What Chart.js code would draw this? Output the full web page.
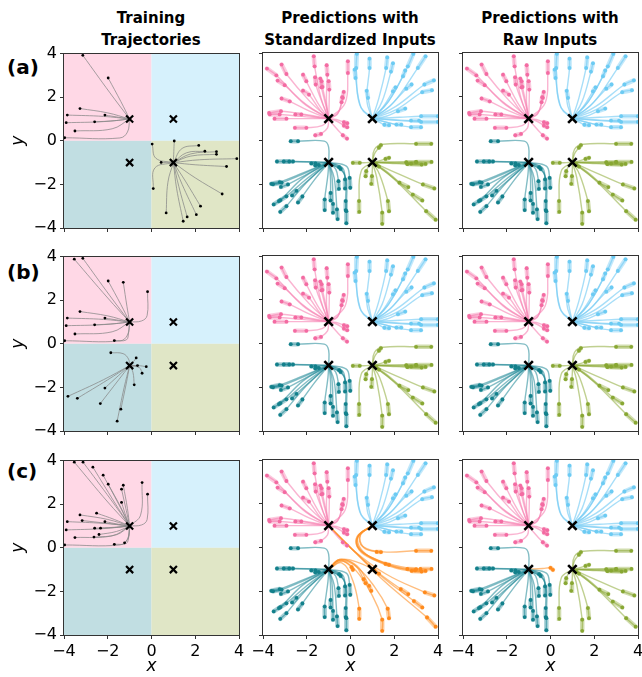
<!DOCTYPE html>
<html><head><meta charset="utf-8">
<script src="https://cdn.jsdelivr.net/npm/chart.js@4.4.1/dist/chart.umd.min.js"></script>
<style>
body{margin:0;background:#fff;}
#fig{position:relative;width:642px;height:677px;overflow:hidden;font-family:"DejaVu Sans",sans-serif;color:#000;}
canvas{position:absolute;}
.ttl{position:absolute;font-weight:bold;font-size:15px;line-height:22px;text-align:center;width:220px;}
.rl{position:absolute;font-weight:bold;font-size:20px;line-height:24px;}
</style></head>
<body><div id="fig">
<div class="ttl" style="left:41px;top:7px">Training<br>Trajectories</div>
<div class="ttl" style="left:240px;top:7px">Predictions with<br>Standardized Inputs</div>
<div class="ttl" style="left:440px;top:7px">Predictions with<br>Raw Inputs</div>
<div class="rl" style="left:7px;top:55px">(a)</div>
<div class="rl" style="left:7px;top:260px">(b)</div>
<div class="rl" style="left:7px;top:459px">(c)</div>
</div>
<script>
// ---------------- data ----------------
const tickValues = [-4, -2, 0, 2, 4];
const attractors = [[-1, 1], [1, 1], [-1, -1], [1, -1]]; // pink, blue, teal, olive
const quadrants = [[-4, 0, 0, 4], [0, 4, 0, 4], [-4, 0, -4, 0], [0, 4, -4, 0]];

// training trajectories: [start, bend...]
const trainA_pink = [
 [[-3.14,3.92],[-1.9,2.2]],
 [[-1.98,2.88],[-1.4,1.8]],
 [[-3.27,1.48],[-2.0,1.28]],
 [[-3.85,1.18],[-2.2,1.12]],
 [[-2.13,1.18],[-1.5,1.08]],
 [[-3.9,0.83],[-2.2,0.88]],
 [[-2.6,0.87],[-1.7,0.92]],
 [[-3.5,0.45],[-1.8,0.55]],
 [[-3.97,0.14],[-1.45,0.13],[-1.1,0.4]]
];
const trainA_olive = [
 [[1.04,-0.01],[1.02,-0.5]],
 [[0.03,-0.15],[0.2,-0.8]],
 [[2.16,-0.21],[1.4,-0.35]],
 [[2.44,-0.48],[1.6,-0.55]],
 [[2.97,-0.5],[1.8,-0.6]],
 [[2.97,-0.62],[1.8,-0.7]],
 [[3.9,-0.82],[2.2,-0.87]],
 [[0.44,-0.99],[0.7,-1.0]],
 [[3.43,-1.18],[2.0,-1.1]],
 [[0.08,-2.19],[0.15,-1.25]],
 [[3.23,-2.44],[2.0,-1.7]],
 [[0.67,-3.31],[0.75,-1.9]],
 [[2.24,-3.0],[1.55,-1.85]],
 [[2.05,-3.39],[1.4,-2.0]],
 [[1.63,-3.49],[1.25,-2.1]],
 [[1.45,-3.69],[1.15,-2.2]]
];
const trainB_pinkExtra = [
 [[-3.53,3.88],[-2.0,2.1]],
 [[-1.29,2.82],[-1.12,1.7]],
 [[-0.18,2.39],[-0.2,1.3],[-0.45,1.05]],
 [[-1.7,0.15],[-1.15,0.18],[-1.05,0.5]]
];
const trainB_teal = [
 [[-1.86,-0.41],[-1.3,-0.45],[-1.05,-0.7]],
 [[-0.7,-0.65],[-0.85,-0.85]],
 [[-0.64,-1.0],[-0.8,-1.0]],
 [[-0.24,-1.05],[-0.6,-1.0]],
 [[-0.43,-1.35],[-0.55,-1.1]],
 [[-0.79,-1.88],[-0.85,-1.3]],
 [[-2.13,-2.03],[-1.5,-1.45]],
 [[-3.82,-2.41],[-2.2,-1.65]],
 [[-3.39,-2.5],[-2.0,-1.65]],
 [[-2.34,-2.74],[-1.5,-1.65]],
 [[-1.4,-3.0],[-1.15,-1.8]],
 [[-1.57,-3.55],[-1.25,-2.0]]
];
const trainC_pink = [
 [[-3.53,3.93],[-2.0,2.1]],
 [[-3.13,3.93],[-1.85,2.2]],
 [[-2.68,3.7],[-1.7,2.1]],
 [[-2.21,3.33],[-1.5,2.0]],
 [[-1.98,2.92],[-1.4,1.85]],
 [[-1.29,2.87],[-1.1,1.8]],
 [[-1.37,2.69],[-1.15,1.7]],
 [[-0.43,2.99],[-0.5,1.5]],
 [[-0.18,2.46],[-0.2,1.3],[-0.45,1.05]],
 [[-1.37,2.08],[-1.15,1.4]],
 [[-3.27,1.51],[-2.0,1.3]],
 [[-2.51,1.59],[-1.7,1.3]],
 [[-3.85,1.2],[-2.2,1.12]],
 [[-3.17,1.25],[-2.0,1.12]],
 [[-2.13,1.2],[-1.5,1.08]],
 [[-3.9,0.82],[-2.2,0.88]],
 [[-2.6,0.9],[-1.7,0.93]],
 [[-2.33,0.9],[-1.6,0.95]],
 [[-2.4,0.61],[-1.6,0.75]],
 [[-3.5,0.47],[-1.8,0.55]],
 [[-2.63,0.49],[-1.6,0.6]],
 [[-3.97,0.13],[-1.45,0.13],[-1.1,0.4]],
 [[-1.7,0.16],[-1.15,0.2],[-1.05,0.5]],
 [[-1.23,0.23],[-1.05,0.45]]
];

// prediction trajectories: [start, end of input window, bend...]
const predPink = [
 [[-1.68,3.85],[-1.64,3.39],[-1.35,1.95]],
 [[-3.15,3.47],[-2.93,3.04],[-1.87,1.8]],
 [[-3.82,3.29],[-3.39,2.98],[-2.17,1.72]],
 [[-1.09,3.44],[-1.06,3.01],[-1.1,1.8]],
 [[-0.12,3.62],[-0.12,3.09],[-0.25,1.7]],
 [[-2.17,3.01],[-2.02,2.71],[-1.5,1.72]],
 [[-1.62,2.89],[-1.59,2.56],[-1.26,1.64]],
 [[-1.38,2.83],[-1.33,2.43],[-1.12,1.57]],
 [[-1.32,2.71],[-1.28,2.45],[-1.1,1.6]],
 [[-1.0,2.71],[-0.97,2.33],[-0.98,1.55]],
 [[-3.33,2.74],[-3.01,2.53],[-2.02,1.64]],
 [[-2.17,2.28],[-1.9,2.1],[-1.41,1.41]],
 [[-0.31,2.22],[-0.35,1.95],[-0.57,1.26]],
 [[-0.38,1.98],[-0.41,1.75],[-0.6,1.2]],
 [[-3.15,1.92],[-2.78,1.79],[-1.87,1.34]],
 [[-3.72,1.26],[-3.18,1.34],[-2.0,1.18]],
 [[-3.69,1.19],[-3.24,1.19],[-2.0,1.08]],
 [[-3.47,1.0],[-2.93,1.0],[-1.87,1.0]],
 [[-2.52,1.19],[-2.25,1.19],[-1.7,1.1]],
 [[-2.54,0.58],[-2.02,0.58],[-1.3,0.68]],
 [[-1.61,0.24],[-1.35,0.3],[-1.05,0.58]],
 [[-0.15,0.79],[-0.3,0.84],[-0.65,0.96]],
 [[-0.15,0.61],[-0.3,0.68],[-0.62,0.88]],
 [[-0.16,0.09],[-0.35,0.24],[-0.8,0.73]]
];
const predBlue = [
 [[0.29,3.96],[0.26,3.32],[0.42,1.64]],
 [[0.19,3.24],[0.23,2.86],[0.49,1.49]],
 [[0.87,3.74],[0.87,3.32],[0.75,1.8]],
 [[1.68,3.8],[1.63,3.32],[1.3,1.95]],
 [[1.94,3.53],[1.85,3.15],[1.45,1.8]],
 [[2.87,3.96],[2.62,3.39],[1.75,1.8]],
 [[3.43,3.85],[3.08,3.32],[1.95,1.72]],
 [[2.5,3.2],[2.4,2.94],[1.7,1.75]],
 [[2.79,2.56],[2.55,2.37],[1.79,1.57]],
 [[3.81,2.75],[3.38,2.56],[2.09,1.57]],
 [[3.72,2.3],[3.28,2.21],[2.09,1.41]],
 [[0.74,2.27],[0.8,1.95],[0.92,1.34]],
 [[2.06,2.43],[1.94,2.25],[1.5,1.55]],
 [[2.5,1.46],[2.17,1.34],[1.63,1.11]],
 [[3.99,1.11],[3.23,1.11],[2.24,1.06]],
 [[3.99,0.85],[3.23,0.85],[2.24,0.91]],
 [[3.22,0.61],[2.77,0.61],[1.94,0.76]],
 [[2.32,0.73],[2.1,0.73],[1.6,0.85]],
 [[1.76,0.7],[1.55,0.72],[1.3,0.85]],
 [[3.13,0.91],[2.77,0.91],[2.0,0.95]]
];
const predTeal = [
 [[-2.73,-0.03],[-2.4,-0.03],[-1.2,-0.03],[-1.0,-0.3]],
 [[-3.36,-0.96],[-2.63,-0.96],[-1.72,-0.98]],
 [[-3.05,-0.96],[-2.8,-0.96],[-1.8,-0.98]],
 [[-1.79,-1.05],[-1.6,-1.05],[-1.3,-1.02]],
 [[-1.61,-1.14],[-1.45,-1.12],[-1.25,-1.06]],
 [[-3.62,-1.98],[-3.24,-1.9],[-2.17,-1.48]],
 [[-3.54,-2.0],[-3.15,-1.93],[-2.1,-1.5]],
 [[-3.18,-2.12],[-2.86,-2.01],[-2.0,-1.55]],
 [[-3.51,-2.92],[-3.21,-2.73],[-2.17,-1.71]],
 [[-3.27,-2.77],[-2.93,-2.55],[-2.0,-1.75]],
 [[-2.67,-2.51],[-2.47,-2.3],[-1.8,-1.7]],
 [[-2.4,-2.83],[-2.2,-2.56],[-1.65,-1.8]],
 [[-3.21,-3.26],[-2.93,-3.0],[-2.02,-1.93]],
 [[-0.45,-1.3],[-0.52,-1.22],[-0.7,-1.1]],
 [[-0.53,-2.21],[-0.55,-1.86],[-0.68,-1.3]],
 [[-0.25,-2.19],[-0.25,-1.78],[-0.37,-1.25]],
 [[-0.01,-2.16],[-0.04,-1.71],[-0.19,-1.17]],
 [[-1.18,-3.18],[-1.18,-2.7],[-1.03,-1.55]],
 [[-0.91,-2.74],[-0.91,-2.4],[-0.92,-1.6]],
 [[-0.59,-3.59],[-0.62,-3.15],[-0.75,-1.7]],
 [[-0.19,-3.78],[-0.19,-3.23],[-0.27,-1.55]],
 [[-0.22,-3.18],[-0.22,-2.77],[-0.3,-1.5]],
 [[-0.8,-3.3],[-0.8,-2.9],[-0.85,-1.6]]
];
const predOlive = [
 [[3.69,-0.15],[3.0,-0.15],[1.5,-0.17],[1.1,-0.4]],
 [[1.39,-0.21],[1.3,-0.33],[1.1,-0.6]],
 [[0.11,-1.02],[0.42,-1.02],[0.72,-1.01]],
 [[1.76,-0.79],[1.6,-0.84],[1.3,-0.93]],
 [[3.0,-0.99],[2.55,-0.99],[1.79,-0.99]],
 [[3.7,-0.98],[3.0,-0.98],[2.0,-0.99]],
 [[3.43,-1.07],[2.77,-1.06],[1.9,-1.03]],
 [[3.25,-1.1],[2.6,-1.08],[1.8,-1.04]],
 [[1.3,-1.19],[1.2,-1.12]],
 [[0.69,-1.63],[0.72,-1.4],[0.85,-1.15]],
 [[0.95,-1.98],[0.98,-1.63],[1.0,-1.3]],
 [[2.64,-2.13],[2.24,-1.93],[1.48,-1.33]],
 [[3.83,-2.19],[3.31,-2.01],[1.8,-1.35]],
 [[3.28,-2.74],[2.85,-2.47],[1.7,-1.45]],
 [[0.4,-3.26],[0.39,-2.77],[0.49,-1.4]],
 [[1.76,-3.23],[1.71,-2.77],[1.33,-1.55]],
 [[1.45,-3.81],[1.45,-3.3],[1.2,-1.7]],
 [[3.89,-3.62],[3.46,-3.23],[1.94,-1.71]]
];
// (c) standardized: olive starts that go to the wrong attractor (orange)
const stdC_orangeToBlue = [
 [[3.69,-0.15],[3.0,-0.15],[1.5,-0.2],[0.55,0.05],[0.45,0.55]],
 [[3.7,-0.98],[3.2,-0.98],[2.3,-0.88],[1.2,-0.55],[0.45,-0.1],[0.35,0.5]],
 [[3.43,-1.07],[2.95,-1.05],[2.2,-0.92],[1.15,-0.55],[0.42,-0.1],[0.33,0.5]],
 [[3.25,-1.1],[2.8,-1.07],[2.1,-0.95],[1.1,-0.58],[0.4,-0.12],[0.32,0.48]],
 [[3.0,-0.99],[2.6,-0.98],[2.0,-0.88],[1.05,-0.5],[0.38,-0.05],[0.3,0.5]],
 [[1.76,-0.79],[1.6,-0.75],[0.9,-0.45],[0.4,0.05],[0.38,0.55]],
 [[1.39,-0.21],[1.2,-0.2],[0.6,0.0],[0.45,0.6]]
];
const stdC_orangeToTeal = [
 [[0.11,-1.02],[0.05,-0.9],[-0.4,-0.62]],
 [[0.69,-1.63],[0.6,-1.45],[0.2,-0.8],[-0.5,-0.55]],
 [[0.95,-1.98],[0.85,-1.75],[0.3,-0.85],[-0.5,-0.55]],
 [[1.3,-1.19],[1.1,-1.05],[0.4,-0.7],[-0.45,-0.55]],
 [[0.4,-3.26],[0.4,-2.8],[0.1,-1.5],[-0.4,-0.7]],
 [[1.45,-3.81],[1.45,-3.3],[1.0,-2.2],[0.2,-1.0],[-0.5,-0.6]],
 [[1.76,-3.23],[1.7,-2.8],[1.1,-1.8],[0.3,-0.9],[-0.5,-0.58]]
];
const stdC_orangeToPink = [
 [[3.89,-3.62],[3.5,-3.2],[1.5,-1.5],[0.1,-0.1]],
 [[3.28,-2.74],[2.9,-2.45],[1.4,-1.3],[0.1,-0.1]],
 [[3.83,-2.19],[3.4,-2.05],[1.6,-1.2],[0.1,-0.1]],
 [[2.64,-2.13],[2.3,-1.9],[1.2,-1.1],[0.1,-0.1]]
];
// (c) raw: one olive start goes to the teal attractor
const rawC_orangeToTeal = [
 [[0.11,-1.02],[0.0,-0.93],[-0.35,-0.96]]
];

// ---------------- styles ----------------
const quadColors = ['#ffd8e6', '#d6f1fc', '#c1dee2', '#e0e6c6'];
const COL = {
  pink:   {dot:'#f36ba2', line:'rgba(246,130,178,0.6)', thick:'rgba(246,130,178,0.42)'},
  blue:   {dot:'#6ccbf3', line:'rgba(120,205,245,0.65)', thick:'rgba(120,205,245,0.45)'},
  teal:   {dot:'#13808b', line:'rgba(30,135,150,0.55)', thick:'rgba(30,135,150,0.38)'},
  olive:  {dot:'#88a733', line:'rgba(140,170,55,0.55)', thick:'rgba(140,170,55,0.4)'},
  orange: {dot:'#ff8a1c', line:'rgba(255,145,40,0.6)', thick:'rgba(255,145,40,0.42)'}
};
Chart.defaults.font.family = "'DejaVu Sans', sans-serif";
Chart.defaults.color = '#000';

const pts = a => a.map(p => ({x:p[0], y:p[1]}));

function trainSets(groups){
  const ds = [], starts = [];
  groups.forEach(g => g.traj.forEach(t => {
    ds.push({data: pts([...t, attractors[g.att]]), showLine:true, borderColor:'rgba(135,135,135,0.75)',
      borderWidth:1, tension:0.4, pointRadius:0, order:3});
    starts.push(t[0]);
  }));
  ds.push({data: pts(starts), pointRadius:1.4, pointBackgroundColor:'#000', pointBorderWidth:0, order:1});
  ds.push({data: pts(attractors), pointStyle:'crossRot', pointRadius:5, pointBorderColor:'#000',
    pointBorderWidth:2.2, order:0});
  return ds;
}
function predSets(groups){
  const ds = [];
  groups.forEach(g => {
    const c = COL[g.col]; const dots = [];
    g.traj.forEach(t => {
      ds.push({data: pts([...t, attractors[g.att]]), showLine:true, borderColor:c.line, borderWidth:1.4,
        tension:0.4, pointRadius:0, order:3});
      ds.push({data: pts([t[0], t[1]]), showLine:true, borderColor:c.thick, borderWidth:4.5,
        tension:0, pointRadius:0, borderCapStyle:'round', order:4});
      dots.push(t[0], t[1]);
    });
    ds.push({data: pts(dots), pointRadius:1.9, pointBackgroundColor:c.dot, pointBorderWidth:0, order:1});
  });
  ds.push({data: pts(attractors), pointStyle:'crossRot', pointRadius:6, pointBorderColor:'#000',
    pointBorderWidth:2.6, order:0});
  return ds;
}
const stdGroups = [
  {traj:predPink, att:0, col:'pink'}, {traj:predBlue, att:1, col:'blue'},
  {traj:predTeal, att:2, col:'teal'}, {traj:predOlive, att:3, col:'olive'}
];
const stdC = [
  {traj:predPink, att:0, col:'pink'}, {traj:predBlue, att:1, col:'blue'},
  {traj:predTeal, att:2, col:'teal'},
  {traj:stdC_orangeToBlue, att:1, col:'orange'}, {traj:stdC_orangeToTeal, att:2, col:'orange'},
  {traj:stdC_orangeToPink, att:0, col:'orange'}
];
const rawC = [
  {traj:predPink, att:0, col:'pink'}, {traj:predBlue, att:1, col:'blue'},
  {traj:predTeal, att:2, col:'teal'}, {traj:predOlive.filter((t,i) => i !== 2), att:3, col:'olive'},
  {traj:rawC_orangeToTeal, att:2, col:'orange'}
];

const quadPlugin = {id:'quads', beforeDatasetsDraw(chart, args, opts){
  if (!opts.show) return;
  const xs = chart.scales.x, ys = chart.scales.y, ctx = chart.ctx;
  ctx.save();
  quadrants.forEach((q, i) => {
    const x0 = xs.getPixelForValue(q[0]), x1 = xs.getPixelForValue(q[1]);
    const y0 = ys.getPixelForValue(q[3]), y1 = ys.getPixelForValue(q[2]);
    ctx.fillStyle = quadColors[i]; ctx.fillRect(x0, y0, x1 - x0, y1 - y0);
  });
  ctx.restore();
}};
const framePlugin = {id:'frame', afterDatasetsDraw(chart){
  const a = chart.chartArea, ctx = chart.ctx;
  ctx.save(); ctx.strokeStyle = '#333'; ctx.lineWidth = 1;
  ctx.strokeRect(Math.round(a.left) - 0.5, Math.round(a.top) - 0.5,
    Math.round(a.right - a.left) + 1, Math.round(a.bottom - a.top) + 1);
  ctx.restore();
}};

const COLS = [64, 263, 463], ROWS = [53, 256, 460], SIZE = 175;
const fmt = v => (v < 0 ? '\u2212' + Math.abs(v) : String(v));
const fig = document.getElementById('fig');

function makeChart(row, col, datasets, isTrain){
  const PL = 56, PR = 14, PT = 12, PB = row === 2 ? 42 : 20;
  const W = SIZE + PL + PR, H = SIZE + PT + PB;
  const cv = document.createElement('canvas');
  cv.width = W; cv.height = H;
  cv.style.left = (COLS[col] - PL) + 'px'; cv.style.top = (ROWS[row] - PT) + 'px';
  cv.style.width = W + 'px'; cv.style.height = H + 'px';
  fig.appendChild(cv);
  const grid = {display:true, drawOnChartArea:false, drawTicks:true, tickLength:4, color:'#333', lineWidth:1};
  new Chart(cv, {
    type:'scatter',
    data:{datasets},
    options:{
      responsive:false, animation:false, events:[],
      layout:{padding:{left:0, right:PR, top:PT, bottom:0}},
      plugins:{legend:{display:false}, tooltip:{enabled:false}, quads:{show:isTrain}},
      scales:{
        x:{type:'linear', min:-4, max:4,
          afterBuildTicks: s => { s.ticks = tickValues.map(v => ({value:v})); },
          afterFit: s => { s.height = PB; },
          ticks:{display: row === 2, callback: fmt, padding:3, font:{size:16}, color:'#000',
            maxRotation:0, autoSkip:false},
          grid, border:{display:false},
          title:{display: row === 2, text:'x', font:{size:17, style:'italic'}, color:'#000', padding:0}},
        y:{type:'linear', min:-4, max:4,
          afterBuildTicks: s => { s.ticks = tickValues.map(v => ({value:v})); },
          afterFit: s => { s.width = PL; },
          ticks:{display: col === 0, callback: fmt, padding:3, font:{size:16}, color:'#000', autoSkip:false},
          grid, border:{display:false},
          title:{display: col === 0, text:'y', font:{size:17, style:'italic'}, color:'#000', padding:0}}
      }
    },
    plugins:[quadPlugin, framePlugin]
  });
}

makeChart(0, 0, trainSets([{traj:trainA_pink, att:0}, {traj:trainA_olive, att:3}]), true);
makeChart(0, 1, predSets(stdGroups), false);
makeChart(0, 2, predSets(stdGroups), false);
makeChart(1, 0, trainSets([{traj:trainA_pink.concat(trainB_pinkExtra), att:0}, {traj:trainB_teal, att:2}]), true);
makeChart(1, 1, predSets(stdGroups), false);
makeChart(1, 2, predSets(stdGroups), false);
makeChart(2, 0, trainSets([{traj:trainC_pink, att:0}]), true);
makeChart(2, 1, predSets(stdC), false);
makeChart(2, 2, predSets(rawC), false);
</script>
</body></html>
